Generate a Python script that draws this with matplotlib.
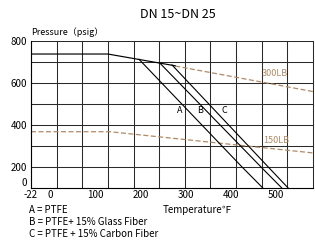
import matplotlib
matplotlib.use('Agg')
import matplotlib.pyplot as plt
import numpy as np

plt.rcParams['font.family'] = ['Noto Sans CJK SC', 'DejaVu Sans']

# common PTFE / 300LB solid section (deg F, psig)
common_t = [-22, 128, 277]
common_p = [738, 738, 682]

# seat lines
a_t = [197, 425, 471]
a_p = [713, 200, 0]
b_t = [243, 467, 513]
b_p = [695, 200, 0]
c_t = [270, 483, 527]
c_p = [686, 200, 0]

# class ratings (dashed)
lb300_t = [277, 600]
lb300_p = [681, 552]
lb150_t = [-22, 133, 600]
lb150_p = [368, 368, 263]

xticks = [-22, 0, 100, 200, 300, 400, 500]
yticks = [0, 200, 400, 600, 800]
legend_lines = ['A = PTFE', 'B = PTFE+ 15% Glass Fiber', 'C = PTFE + 15% Carbon Fiber']


def fx(t):
    t = np.asarray(t, dtype=float)
    return np.where(t >= 0, t, t * 42 / 22)


def fx_inv(u):
    u = np.asarray(u, dtype=float)
    return np.where(u >= 0, u, u * 22 / 42)


def fy(p):
    p = np.asarray(p, dtype=float)
    return np.where(p >= 200, p, 100 + p / 2)


def fy_inv(q):
    q = np.asarray(q, dtype=float)
    return np.where(q >= 200, q, (q - 100) * 2)


fig = plt.figure(figsize=(3.15, 2.4), dpi=100)
ax = fig.add_axes([31 / 315, 1 - 188 / 240, 282 / 315, 147 / 240])
ax.set_xscale('function', functions=(fx, fx_inv))
ax.set_yscale('function', functions=(fy, fy_inv))
ax.set_xlim(-22, 582)
ax.set_ylim(0, 800)

gridc = '#2a2a2a'
for f in np.linspace(0, 1, 12):
    ax.plot([f, f], [0, 1], transform=ax.transAxes, color=gridc, lw=0.75, clip_on=False, zorder=1)
for p in range(200, 900, 100):
    ax.axhline(p, color=gridc, lw=0.75, zorder=1)

brown = '#b08a66'
ax.plot(lb300_t, lb300_p, color=brown, lw=0.9, dashes=(4, 2), zorder=2)
ax.plot(lb150_t, lb150_p, color=brown, lw=0.9, dashes=(4, 2), zorder=2)
ax.plot(common_t, common_p, color='black', lw=0.85, zorder=3)
for tt, pp in [(a_t, a_p), (b_t, b_p), (c_t, c_p)]:
    ax.plot(tt, pp, color='black', lw=0.8, zorder=3)

ax.text(498, 643, '300LB', color=brown, fontsize=6.5, ha='center', va='center')
ax.text(500, 324, '150LB', color=brown, fontsize=6.5, ha='center', va='center')
for lab, tx in zip(['A', 'B', 'C'], [288, 332, 385]):
    ax.text(tx, 467, lab, fontsize=6.5, ha='center', va='center')

for s in ['top', 'right']:
    ax.spines[s].set_visible(False)
for s in ['left', 'bottom']:
    ax.spines[s].set_linewidth(0.8)
ax.set_xticks(xticks)
ax.set_yticks(yticks)
ax.set_xticklabels([str(v) for v in xticks])
ax.set_yticklabels([str(v) for v in yticks])
ax.tick_params(length=0, labelsize=7)
ax.tick_params(axis='y', pad=3)
ax.tick_params(axis='x', pad=1.5)
ax.minorticks_off()
ax.get_yticklabels()[0].set_va('bottom')

fig.text(178 / 315, 1 - 15 / 240, 'DN 15~DN 25', fontsize=9, ha='center', va='center')
fig.text(31 / 315, 1 - 32 / 240, 'Pressure（psig）', fontsize=6.5, ha='left', va='center')
fig.text(197 / 315, 1 - 210 / 240, 'Temperature℉', fontsize=7, ha='center', va='center')
for i, line in enumerate(legend_lines):
    fig.text(29 / 315, 1 - (210 + 12 * i) / 240, line, fontsize=7, ha='left', va='center')

fig.savefig('out.png', dpi=100)
